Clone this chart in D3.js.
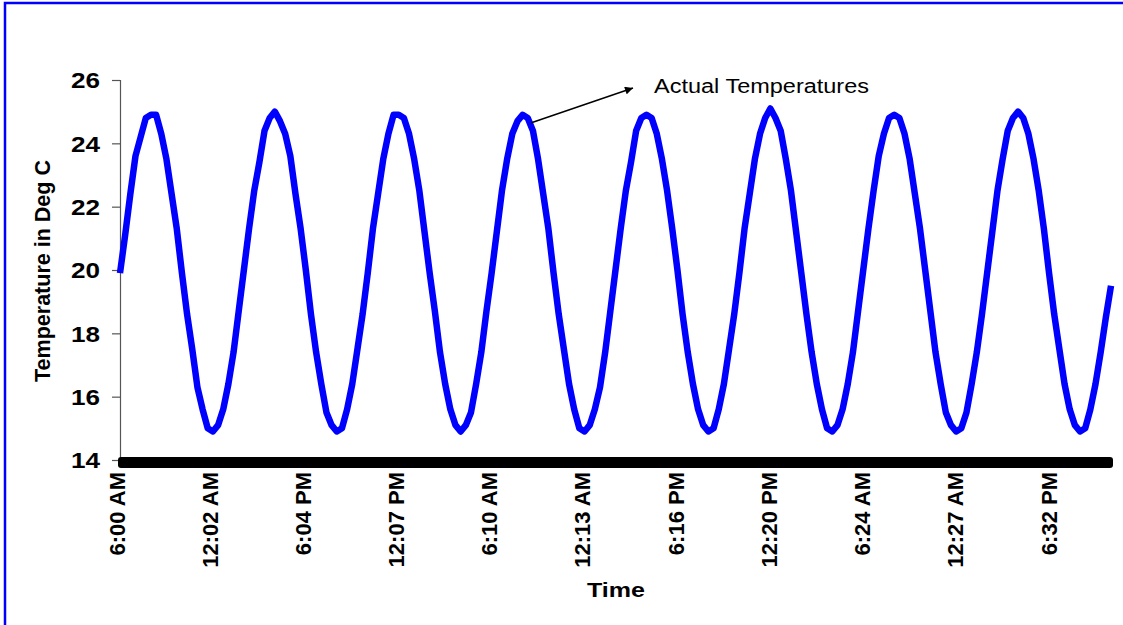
<!DOCTYPE html>
<html>
<head>
<meta charset="utf-8">
<script src="https://cdn.jsdelivr.net/npm/d3@7"></script>
<style>
  html, body { margin: 0; padding: 0; background: #fff; }
  svg { display: block; font-family: "Liberation Sans", Arial, sans-serif; }
</style>
</head>
<body>
<svg id="chart" width="1123" height="625"></svg>
<script>
// ---------- data (hourly readings, hour 0 = 6:00 AM) ----------
const temps = [
  19.9, 21.1, 22.4, 23.6, 24.2, 24.8, 24.9, 24.9, 24.3, 23.5, 22.4, 21.3, 19.9, 18.6, 17.5, 16.3, 15.6, 15.0, 14.9, 15.1, 15.6, 16.4, 17.4, 18.7,
  20.0, 21.3, 22.5, 23.4, 24.4, 24.8, 25.0, 24.7, 24.3, 23.6, 22.4, 21.3, 20.0, 18.6, 17.4, 16.4, 15.5, 15.1, 14.9, 15.0, 15.6, 16.4, 17.5, 18.6,
  19.9, 21.3, 22.4, 23.5, 24.3, 24.9, 24.9, 24.8, 24.3, 23.5, 22.5, 21.2, 19.9, 18.7, 17.4, 16.4, 15.6, 15.1, 14.9, 15.1, 15.5, 16.4, 17.4, 18.7,
  19.9, 21.2, 22.5, 23.5, 24.3, 24.7, 24.9, 24.8, 24.4, 23.5, 22.4, 21.3, 19.9, 18.6, 17.5, 16.4, 15.6, 15.0, 14.9, 15.1, 15.6, 16.3, 17.4, 18.7,
  20.0, 21.3, 22.5, 23.4, 24.4, 24.8, 24.9, 24.8, 24.3, 23.5, 22.5, 21.3, 20.0, 18.6, 17.4, 16.4, 15.6, 15.1, 14.9, 15.0, 15.6, 16.4, 17.5, 18.6,
  19.9, 21.3, 22.4, 23.5, 24.3, 24.8, 25.1, 24.8, 24.4, 23.5, 22.5, 21.2, 19.9, 18.6, 17.4, 16.4, 15.6, 15.0, 14.9, 15.1, 15.6, 16.4, 17.4, 18.7,
  20.0, 21.3, 22.5, 23.6, 24.3, 24.8, 24.9, 24.8, 24.3, 23.5, 22.4, 21.3, 20.0, 18.7, 17.4, 16.4, 15.5, 15.1, 14.9, 15.0, 15.5, 16.4, 17.4, 18.6,
  19.9, 21.2, 22.5, 23.5, 24.4, 24.8, 25.0, 24.8, 24.3, 23.5, 22.5, 21.3, 19.9, 18.6, 17.5, 16.4, 15.6, 15.1, 14.9, 15.0, 15.6, 16.4, 17.4, 18.5,
  19.5
];
const tickLabels = ["6:00 AM", "12:02 AM", "6:04 PM", "12:07 PM", "6:10 AM", "12:13 AM",
                    "6:16 PM", "12:20 PM", "6:24 AM", "12:27 AM", "6:32 PM"];
const tickHours  = [0, 18.03, 36.07, 54.12, 72.17, 90.22, 108.27, 126.33, 144.4, 162.45, 180.53];
const yTicks = [14, 16, 18, 20, 22, 24, 26];
const annotation = { text: "Actual Temperatures", hour: 79.7, value: 24.65 };

// ---------- drawing ----------
const svg = d3.select("#chart");
svg.append("rect").attr("width", 1123).attr("height", 625).attr("fill", "#fff");
svg.append("rect").attr("x", 5).attr("y", 3).attr("width", 1200).attr("height", 700)
   .attr("fill", "none").attr("stroke", "#0000ff").attr("stroke-width", 2.5);

const x = d3.scaleLinear().domain([0, temps.length - 1]).range([120, 1111]);
const y = d3.scaleLinear().domain([14, 26]).range([460, 80]);

// y axis
const yAxis = d3.axisLeft(y).tickValues(yTicks).tickSize(8).tickPadding(12).tickFormat(d3.format("d"));
const gy = svg.append("g").attr("transform", `translate(${x(0)},0)`).call(yAxis);
gy.select(".domain").attr("stroke", "#555").attr("stroke-width", 1.2);
gy.selectAll(".tick line").attr("stroke", "#555").attr("stroke-width", 1.2);
gy.selectAll(".tick text")
  .attr("fill", "#000").attr("font-size", 22).attr("font-weight", "bold")
  .attr("font-family", "'Liberation Sans', Arial, sans-serif")
  .attr("dy", "0.36em")
  .attr("textLength", 29).attr("lengthAdjust", "spacingAndGlyphs");

// thick x axis bar
svg.append("rect")
  .attr("x", x(0) - 2).attr("y", y(14) - 3)
  .attr("width", x(temps.length - 1) - x(0) + 4).attr("height", 11)
  .attr("rx", 3).attr("fill", "#000");

// x tick labels
svg.append("g").selectAll("text").data(tickLabels).join("text")
  .attr("transform", (d, i) => `translate(${x(tickHours[i]) - 3},${y(14) + 12}) rotate(-90)`)
  .attr("text-anchor", "end").attr("dy", "0.35em")
  .attr("font-size", 22).attr("font-weight", "bold").attr("fill", "#000")
  .text(d => d);

// axis titles
svg.append("text")
  .attr("x", 616).attr("y", 597).attr("text-anchor", "middle")
  .attr("font-size", 21).attr("font-weight", "bold")
  .attr("textLength", 58).attr("lengthAdjust", "spacingAndGlyphs")
  .text("Time");
svg.append("text")
  .attr("transform", "translate(50,271) rotate(-90)").attr("text-anchor", "middle")
  .attr("font-size", 22).attr("font-weight", "bold")
  .attr("textLength", 222).attr("lengthAdjust", "spacingAndGlyphs")
  .text("Temperature in Deg C");

// line series
const line = d3.line().x((d, i) => x(i)).y(d => y(d));
svg.append("path").datum(temps)
  .attr("d", line).attr("fill", "none")
  .attr("stroke", "#0000ff").attr("stroke-width", 6.5)
  .attr("stroke-linejoin", "round").attr("stroke-linecap", "butt");

// annotation
svg.append("defs").append("marker")
  .attr("id", "arrow").attr("viewBox", "0 0 10 10").attr("refX", 10).attr("refY", 5)
  .attr("markerWidth", 10).attr("markerHeight", 8).attr("markerUnits", "userSpaceOnUse")
  .attr("orient", "auto")
  .append("path").attr("d", "M0,0 L10,5 L0,10 Z").attr("fill", "#000");
svg.append("line")
  .attr("x1", x(annotation.hour)).attr("y1", y(annotation.value))
  .attr("x2", 633).attr("y2", 88)
  .attr("stroke", "#000").attr("stroke-width", 1.5)
  .attr("marker-end", "url(#arrow)");
svg.append("text")
  .attr("x", 654).attr("y", 93)
  .attr("font-size", 19.5).attr("fill", "#000")
  .attr("textLength", 215).attr("lengthAdjust", "spacingAndGlyphs")
  .text(annotation.text);
</script>
</body>
</html>
